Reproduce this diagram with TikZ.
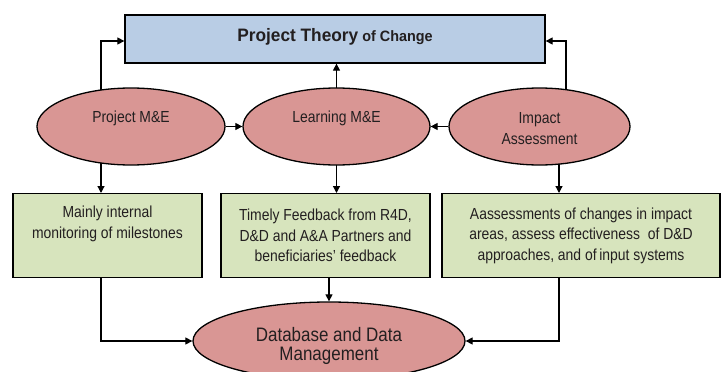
\documentclass[tikz,border=0pt]{standalone}
\usepackage{fontspec}
\setmainfont{Liberation Sans}[FakeStretch=0.87]
\newfontfamily\titlefont{Liberation Sans}[FakeStretch=0.96]
\usetikzlibrary{shapes.geometric,arrows.meta}
\pgfdeclarelayer{background}
\pgfsetlayers{background,main}
\definecolor{topblue}{HTML}{B9CDE5}
\definecolor{ellred}{HTML}{D99694}
\definecolor{boxgreen}{HTML}{D7E4BD}
\definecolor{txt}{HTML}{231F20}
\tikzset{
  conn/.style={line width=1.2pt, draw=black, -{Triangle[length=7pt,width=7pt]}},
  topbox/.style={draw=black, line width=1.3pt, fill=topblue, minimum width=420pt, minimum height=48pt, text=txt, inner sep=0pt},
  ell/.style={ellipse, draw=black, line width=1.3pt, fill=ellred, text=txt, font=\fontsize{16}{20.3}\selectfont, align=center, inner sep=0pt},
  gbox/.style={draw=black, line width=1.3pt, fill=boxgreen, minimum height=84pt, text=txt, font=\fontsize{16}{20.5}\selectfont, align=center, inner sep=0pt, anchor=north}
}
\begin{document}
\begin{tikzpicture}[x=1pt,y=-1pt]
\useasboundingbox (0,0) rectangle (721,372);
\clip (0,0) rectangle (721,372);
% nodes
\node[topbox] (top) at (335,39) {\titlefont\bfseries\fontsize{18}{22}\selectfont Project Theory\fontsize{15}{22}\selectfont\ of Change\rule[-9pt]{0pt}{9pt}};
\node[ell, minimum width=188pt, minimum height=77pt] (pme) at (131,126.5) {\rule[-21pt]{0pt}{33pt}Project M\&E};
\node[ell, minimum width=187pt, minimum height=77pt] (lme) at (336.5,126.5) {\rule[-21pt]{0pt}{33pt}Learning M\&E};
\node[ell, minimum width=181pt, minimum height=77pt] (ia) at (539.5,126.5) {\rule{0pt}{15pt}Impact\\Assessment};
\node[gbox, minimum width=189pt] (b1) at (107.5,193) {Mainly internal\\monitoring of milestones\\\strut};
\node[gbox, minimum width=209pt] (b2) at (325.5,193) {Timely Feedback from R4D,\\D\&D and A\&A Partners and\\beneficiaries’ feedback};
\node[gbox, minimum width=278pt] (b3) at (581,193) {Aassessments of changes in impact\\areas, assess effectiveness\ \ of D\&D\\approaches, and of\,input systems};
\node[ell, minimum width=272pt, minimum height=78pt, font=\fontsize{19.5}{19.5}\selectfont] (db) at (329,341) {\rule{0pt}{23.6pt}Database and Data\\Management};
% helper coordinates
\coordinate (pL) at (101,41);
\coordinate (pR) at (566,41);
\coordinate (pI) at (559,0);
% connectors
\begin{pgfonlayer}{background}
\fill[white] (0,0) rectangle (721,372);
\draw[conn] (pme.center -| pL) -- (pL) -- (top.west |- pL);
\draw[conn] (ia.center -| pR) -- (pR) -- (top.east |- pR);
\draw[conn] (pme.center -| pL) -- (b1.north -| pL);
\draw[conn] (ia.center -| pI) -- (b3.north -| pI);
\draw[conn] (lme.center) -- (lme.center |- b2.north);
\draw[conn] (lme.center) -- (lme.center |- top.south);
\draw[conn] (b1.south -| pL) |- (db.west);
\draw[conn] (b3.south -| pI) |- (db.east);
\draw[conn] (b2.south -| db.center) -- (db.north);
\end{pgfonlayer}
\draw[conn] (pme) -- (lme);
\draw[conn] (ia) -- (lme);
\end{tikzpicture}
\end{document}
